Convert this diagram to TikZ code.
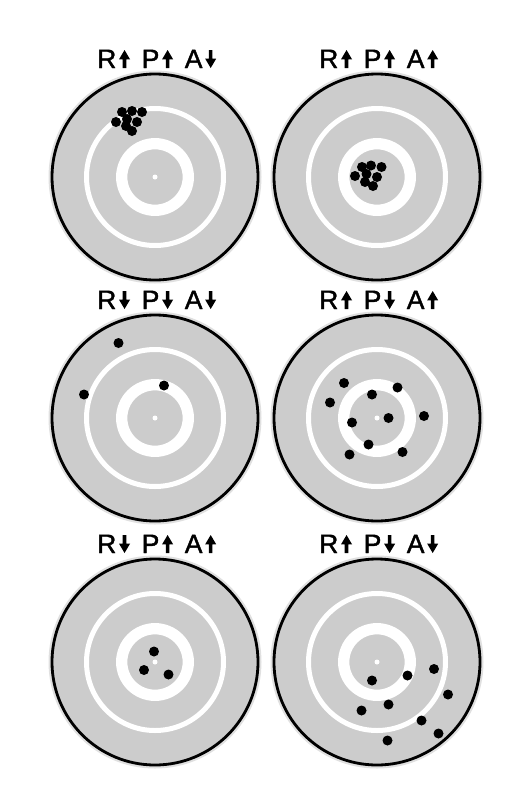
\documentclass[tikz,border=0pt]{standalone}
\usepackage{fontspec}
\setmainfont{Liberation Sans}
\newfontfamily\lblfont[FakeBold=1.5]{Liberation Sans}
\usetikzlibrary{positioning}

\begin{document}
\begin{tikzpicture}[x=1pt,y=-1pt,
    letter/.style={inner sep=0pt,font=\lblfont\fontsize{26.5}{30}\selectfont},
    halo/.style={fill=black!12},
    face/.style={fill=black!20,draw=black,line width=2.8pt},
    ring/.style={draw=white,line width=5pt},
    bullring/.style={draw=white,line width=11.3pt},
    shot/.style={fill=black},
    arw/.pic={\fill (-1.8,9) -- (-1.8,0.3) -- (-5.5,0.3) -- (0,-9) -- (5.5,0.3) -- (1.8,0.3) -- (1.8,9) -- cycle;}]
  \path[fill=white,use as bounding box] (0,0) rectangle (524,798);
  % targets
  \foreach \c in {(155,177),(377,177),(155,418),(377,418),(155,662),(377,662)} {
    \fill[halo] \c circle (106.5);
    \filldraw[face] \c circle (103);
    \draw[ring] \c circle (68.5);
    \draw[bullring] \c circle (33.3);
    \fill[white] \c circle (2.5);
  }
  % labels (1 = up, -1 = down)
  \foreach \n/\cx/\cy/\ra/\pa/\aa in {tl/155/177/1/1/-1, tr/377/177/1/1/1,
      ml/155/418/-1/-1/-1, mr/377/418/1/-1/1,
      bl/155/662/-1/1/1, br/377/662/1/-1/-1} {
    \node[letter,anchor=base west] (\n R) at (\cx-58,\cy-109) {R};
    \pic[yscale=\ra] at ([shift={(8,-9)}]\n R.base east) {arw};
    \node[letter,right=25pt of \n R.base east,anchor=base west] (\n P) {P};
    \pic[yscale=\pa] at ([shift={(8,-9)}]\n P.base east) {arw};
    \node[letter,right=25pt of \n P.base east,anchor=base west] (\n A) {A};
    \pic[yscale=\aa] at ([shift={(8,-9)}]\n A.base east) {arw};
  }
  % shots
  \begin{scope}[shift={(155,177)}]
    \foreach \p in {(-33,-65),(-23,-66),(-13,-65),(-39,-55),(-28,-58),(-18,-55),(-29,-51),(-23,-46)}
      \fill[shot] \p circle (5);
  \end{scope}
  \begin{scope}[shift={(377,177)}]
    \foreach \p in {(-15,-10),(-6,-11.5),(4.5,-10),(-22,-1),(-10.5,-3),(0,0),(-12,5),(-4,9)}
      \fill[shot] \p circle (5);
  \end{scope}
  \begin{scope}[shift={(155,418)}]
    \foreach \p in {(-36.5,-75),(-71,-23.5),(9,-32.5)}
      \fill[shot] \p circle (5);
  \end{scope}
  \begin{scope}[shift={(377,418)}]
    \foreach \p in {(-33,-35),(20.5,-30.5),(-47,-15.5),(-5,-23.5),(47,-2),(11.5,0),(-25,4.5),(-8.5,26.5),(25.5,34),(-27.5,36.5)}
      \fill[shot] \p circle (5);
  \end{scope}
  \begin{scope}[shift={(155,662)}]
    \foreach \p in {(-1,-10.5),(-11,8),(13.5,12.5)}
      \fill[shot] \p circle (5);
  \end{scope}
  \begin{scope}[shift={(377,662)}]
    \foreach \p in {(57,7),(30.5,13.5),(-5,18.5),(71,32.5),(11.5,42.5),(-15.5,48.5),(44.5,58.5),(61.5,71.5),(10.5,78.5)}
      \fill[shot] \p circle (5);
  \end{scope}
\end{tikzpicture}
\end{document}
